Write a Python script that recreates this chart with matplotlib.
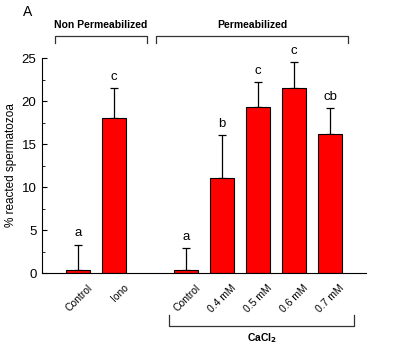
import numpy as np
import matplotlib.pyplot as plt
import matplotlib.transforms as mtransforms
from matplotlib.ticker import MultipleLocator

plt.rcParams['font.family'] = ['Liberation Sans', 'DejaVu Sans']

labels = ['Control', 'Iono', 'Control', '0.4 mM', '0.5 mM', '0.6 mM', '0.7 mM']
pos = [0, 1, 3, 4, 5, 6, 7]
values = [0.3, 18.0, 0.3, 11.0, 19.3, 21.5, 16.2]
errors = [3.0, 3.5, 2.6, 5.0, 2.9, 3.0, 3.0]
letters = ['a', 'c', 'a', 'b', 'c', 'c', 'cb']

fig = plt.figure(figsize=(4, 3.48), dpi=100)
ax = fig.add_axes([0.105, 0.2155, 0.81, 0.6175])

ax.bar(pos, values, width=0.67, color='#ff0000', edgecolor='black', linewidth=0.8, zorder=2)
ax.errorbar(pos, values, yerr=[np.zeros(len(values)), errors], fmt='none',
            ecolor='black', elinewidth=0.9, capsize=3, capthick=0.9, zorder=1)
for p, v, e, l in zip(pos, values, errors, letters):
    ax.text(p, v + e + 0.6, l, ha='center', va='bottom', fontsize=9.5)

ax.set_xlim(-1, 8)
ax.set_ylim(0, 25)
ax.yaxis.set_major_locator(MultipleLocator(5))
ax.yaxis.set_minor_locator(MultipleLocator(2.5))
ax.tick_params(axis='y', which='major', direction='in', length=3.5, labelsize=9.5, pad=4)
ax.tick_params(axis='y', which='minor', direction='in', length=2)
ax.set_xticks(pos)
ax.set_xticklabels(labels, rotation=45, ha='right', rotation_mode='anchor', fontsize=7.5)
ax.tick_params(axis='x', length=0, pad=7)
offset = mtransforms.ScaledTranslation(0.09, 0, fig.dpi_scale_trans)
for lab in ax.get_xticklabels():
    lab.set_transform(lab.get_transform() + offset)
ax.spines['top'].set_visible(False)
ax.spines['right'].set_visible(False)
ax.set_ylabel('% reacted spermatozoa', fontsize=8.5, labelpad=3)

tr = ax.get_xaxis_transform()
def bracket(x0, x1, ytip, yline, text, ytext):
    ax.plot([x0, x0, x1, x1], [ytip, yline, yline, ytip], color='#333333', lw=0.9,
            transform=tr, clip_on=False)
    ax.text((x0 + x1) / 2, ytext, text, transform=tr, ha='center', va='center',
            fontsize=7.5, fontweight='bold')

bracket(-0.64, 1.92, 1.07, 1.102, 'Non Permeabilized', 1.155)
bracket(2.17, 7.5, 1.07, 1.102, 'Permeabilized', 1.155)
bracket(2.53, 7.67, -0.195, -0.247, 'CaCl$_\\mathbf{2}$', -0.305)

fig.text(0.07, 0.965, 'A', fontsize=10, va='center', ha='center')

fig.savefig('out.png', dpi=100)
